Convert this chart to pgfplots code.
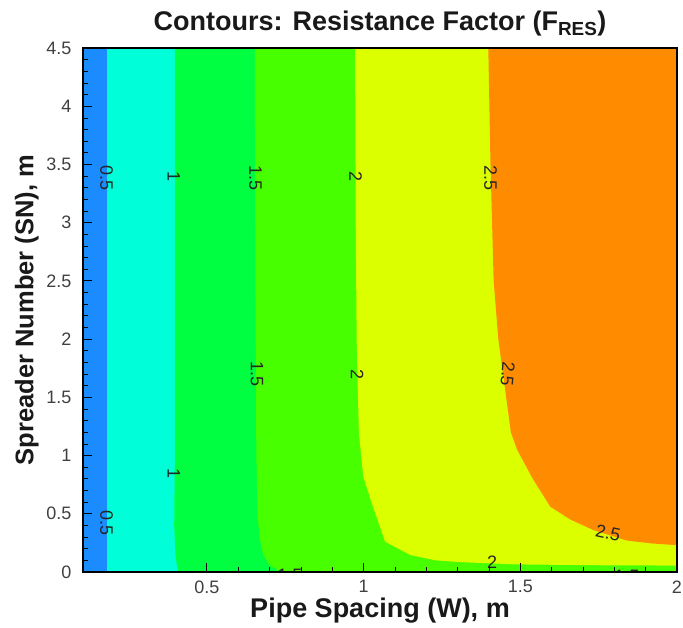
\documentclass[border=0pt]{standalone}
\usepackage{pgfplots}
\pgfplotsset{compat=1.18}
\usepackage{fontspec}
\setmainfont{Liberation Sans}
\definecolor{cblue}{RGB}{26,140,255}
\definecolor{ccyan}{RGB}{0,255,216}
\definecolor{cgreen}{RGB}{0,255,64}
\definecolor{cbgreen}{RGB}{72,255,0}
\definecolor{cyellow}{RGB}{220,255,0}
\definecolor{corange}{RGB}{255,140,0}
\begin{document}
\begin{tikzpicture}
\begin{axis}[
  scale only axis, width=594pt, height=524pt,
  xmin=0.105, xmax=2, ymin=0, ymax=4.5,
  xtick={0.5,1,1.5,2}, ytick={0,0.5,...,4.5},
  minor x tick num=4, minor y tick num=4,
  tick align=inside, tick pos=left,
  major tick length=9pt, minor tick length=5pt,
  every tick/.style={black, line width=1.2pt},
  minor tick style={line width=0.7pt},
  axis line style={line width=1.8pt},
  axis on top,
  /pgf/number format/assume math mode=true,
  tick label style={font=\fontsize{18}{20}\selectfont, text=black!75},
  xticklabel style={yshift=-5pt},
  yticklabel style={xshift=-8pt},
  xlabel={\textbf{Pipe Spacing (W), m}},
  ylabel={\textbf{Spreader Number (SN), m}},
  xlabel style={font=\fontsize{27}{29}\selectfont, text=black!90, yshift=2pt},
  ylabel style={font=\fontsize{25.5}{27}\selectfont, text=black!90, yshift=1pt},
  title={\textbf{Contours: Resistance Factor (F\textsubscript{RES})}},
  title style={font=\fontsize{27}{29}\selectfont, yshift=2pt, text=black!90},
]
% blue background
\addplot[fill=cblue, draw=none] coordinates {(0.105,0) (2,0) (2,4.5) (0.105,4.5)} --cycle;
% 0.5 contour
\addplot[fill=ccyan, draw=none] coordinates {(0.18,4.5) (0.18,0) (2,0) (2,4.5)} --cycle;
% 1 contour
\addplot[fill=cgreen, draw=none] coordinates {(0.398,4.5) (0.398,1.0) (0.396,0.4) (0.40,0.15) (0.405,0.05) (0.41,0) (2,0) (2,4.5)} --cycle;
% 1.5 contour
\addplot[fill=cbgreen, draw=none] coordinates {(0.653,4.5) (0.655,2.5) (0.658,1.0) (0.662,0.5) (0.668,0.3) (0.68,0.15) (0.70,0.06) (0.73,0.01) (0.80,0) (2,0) (2,4.5)} --cycle;
% 2 contour
\addplot[fill=cyellow, draw=none] coordinates {(0.973,4.5) (0.975,3.0) (0.978,2.0) (0.985,1.2) (0.999,0.82) (1.03,0.56) (1.069,0.26) (1.149,0.146) (1.23,0.10) (1.308,0.085) (1.49,0.065) (1.75,0.058) (2,0.055) (2,4.5)} --cycle;
% 2.5 contour
\addplot[fill=corange, draw=none] coordinates {(1.398,4.5) (1.405,3.5) (1.415,2.5) (1.43,2.0) (1.455,1.5) (1.47,1.2) (1.49,1.05) (1.54,0.80) (1.596,0.56) (1.66,0.45) (1.733,0.36) (1.84,0.27) (1.92,0.245) (2,0.23) (2,4.5)} --cycle;
% contour labels
\begin{scope}[every node/.style={font=\fontsize{18}{18}\selectfont, text=black!85, inner sep=0pt}]
\clip (axis cs:0.105,0) rectangle (axis cs:2,4.5);
\node[rotate=-90] at (axis cs:0.18,3.38) {0.5};
\node[rotate=-90] at (axis cs:0.18,0.42) {0.5};
\node[rotate=-90] at (axis cs:0.395,3.4) {1};
\node[rotate=-90] at (axis cs:0.395,0.85) {1};
\node[rotate=-90] at (axis cs:0.655,3.38) {1.5};
\node[rotate=-90] at (axis cs:0.66,1.7) {1.5};
\node[rotate=-90] at (axis cs:0.975,3.4) {2};
\node[rotate=-90] at (axis cs:0.98,1.7) {2};
\node[rotate=-90] at (axis cs:1.405,3.38) {2.5};
\node[rotate=-95] at (axis cs:1.46,1.7) {2.5};
\node[rotate=-12] at (axis cs:1.78,0.335) {2.5};
\node at (axis cs:1.41,0.08) {2};
\node at (axis cs:0.765,-0.03) {1.5};
\node at (axis cs:1.84,-0.04) {1.5};
\end{scope}
\end{axis}
\pgfresetboundingbox
\path ([shift={(-83pt,-56pt)}]current axis.south west) rectangle ([shift={(6pt,48pt)}]current axis.north east);
\end{tikzpicture}
\end{document}
